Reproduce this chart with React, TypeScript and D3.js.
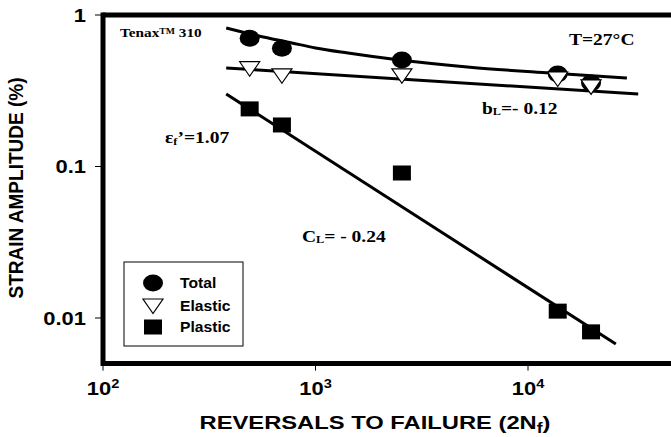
import React from 'react';
import * as d3 from 'd3';

const reversals = [490, 695, 2550, 13800, 19800];
const totalStrain = [0.702, 0.603, 0.505, 0.408, 0.356];
const elasticStrain = [0.442, 0.397, 0.397, 0.378, 0.335];
const plasticStrain = [0.24, 0.188, 0.0906, 0.0111, 0.0081];

const totalFitX = [380, 535, 774, 1000, 1422, 2290, 5330, 12700, 29200];
const totalFitY = [0.821, 0.73, 0.654, 0.606, 0.561, 0.512, 0.452, 0.414, 0.384];
const elasticFitX = [380, 33000];
const elasticFitY = [0.447, 0.301];
const plasticFitX = [380, 25900];
const plasticFitY = [0.301, 0.00673];

const xTicks = [100, 1000, 10000];
const xTickExp = ['2', '3', '4'];
const yTicks = [1, 0.1, 0.01];
const yTickLabels = ['1', '0.1', '0.01'];
const legendItems = ['Total', 'Elastic', 'Plastic'];

const W = 671;
const H = 437;
const SANS = 'Liberation Sans, Arial, sans-serif';
const SERIF = 'Liberation Serif, Times New Roman, serif';
const SX = 1.22;

function T(props: any) {
  const { x, y, anchor = 'start', size, family, sx = SX, children } = props;
  return (
    <text
      transform={`translate(${x},${y}) scale(${sx},1)`}
      textAnchor={anchor}
      fontSize={size}
      fontFamily={family}
      fontWeight="bold"
      fill="#000"
    >
      {children}
    </text>
  );
}

function Circle({ cx, cy }: any) {
  return <ellipse cx={cx} cy={cy} rx={10} ry={8.5} fill="#000" />;
}
function Tri({ cx, cy }: any) {
  return (
    <polygon
      points={`${cx - 10},${cy - 7} ${cx + 10},${cy - 7} ${cx},${cy + 7.5}`}
      fill="#fff"
      stroke="#000"
      strokeWidth={1.2}
    />
  );
}
function Sq({ cx, cy }: any) {
  return <rect x={cx - 9} y={cy - 7.5} width={18} height={15} fill="#000" />;
}

export default function App() {
  const x = d3.scaleLog().domain([100, 10000]).range([103, 528]);
  const y = d3.scaleLog().domain([0.01, 1]).range([318, 15]);
  const x0 = x(100);
  const yTop = y(1);
  const yBot = y(0.005);

  const line = d3
    .line<[number, number]>()
    .x((d) => x(d[0]))
    .y((d) => y(d[1]))
    .curve(d3.curveMonotoneX);
  const straight = d3
    .line<[number, number]>()
    .x((d) => x(d[0]))
    .y((d) => y(d[1]));

  const totalPts = totalFitX.map((v, i) => [v, totalFitY[i]] as [number, number]);
  const elasticPts = elasticFitX.map((v, i) => [v, elasticFitY[i]] as [number, number]);
  const plasticPts = plasticFitX.map((v, i) => [v, plasticFitY[i]] as [number, number]);

  const legX = 124;
  const legY = 262;
  const legRows = [283, 306, 327].map((v) => v - legY);

  return (
    <svg
      width={W}
      height={H}
      style={{ position: 'absolute', left: 0, top: 0, background: '#fff' }}
    >
      <rect x={0} y={0} width={W} height={H} fill="#fff" />
      {/* fit lines */}
      <path d={line(totalPts) || ''} fill="none" stroke="#000" strokeWidth={3} />
      <path d={straight(elasticPts) || ''} fill="none" stroke="#000" strokeWidth={3} />
      <path d={straight(plasticPts) || ''} fill="none" stroke="#000" strokeWidth={3} />

      {/* markers */}
      {reversals.map((r, i) => (
        <Circle key={'c' + i} cx={x(r)} cy={y(totalStrain[i])} />
      ))}
      {reversals.map((r, i) => (
        <Tri key={'t' + i} cx={x(r)} cy={y(elasticStrain[i])} />
      ))}
      {reversals.map((r, i) => (
        <Sq key={'s' + i} cx={x(r)} cy={y(plasticStrain[i])} />
      ))}

      {/* frame */}
      <line x1={x0} x2={W} y1={yTop} y2={yTop} stroke="#000" strokeWidth={5} />
      <line x1={x0} x2={W} y1={yBot} y2={yBot} stroke="#000" strokeWidth={5} />
      <line x1={x0} x2={x0} y1={yTop - 2.5} y2={yBot + 2.5} stroke="#000" strokeWidth={5} />

      {/* ticks */}
      {yTicks.map((t, i) => (
        <g key={'yt' + i}>
          <line x1={x0 - 8} x2={x0} y1={y(t)} y2={y(t)} stroke="#000" strokeWidth={1} />
          <T x={86} y={y(t) + 6.5} anchor="end" size={18} family={SANS}>
            {yTickLabels[i]}
          </T>
        </g>
      ))}
      {xTicks.map((t, i) => (
        <g key={'xt' + i}>
          <line x1={x(t)} x2={x(t)} y1={yBot} y2={yBot + 7} stroke="#000" strokeWidth={1} />
          <T x={x(t)} y={395} anchor="middle" size={18} family={SANS}>
            10<tspan fontSize={12} dy={-7}>{xTickExp[i]}</tspan>
          </T>
        </g>
      ))}

      {/* axis titles */}
      <T x={375} y={429} anchor="middle" size={19} family={SANS} sx={1.25}>
        REVERSALS TO FAILURE (2N<tspan fontSize={14} dy={4}>f</tspan>
        <tspan dy={-4}>)</tspan>
      </T>
      <text
        transform={`translate(23,188) scale(1.1,1) rotate(-90)`}
        textAnchor="middle"
        fontSize={19}
        fontFamily={SANS}
        fontWeight="bold"
      >
        STRAIN AMPLITUDE (%)
      </text>

      {/* annotations */}
      <T x={120} y={37} size={12.5} family={SERIF}>
        Tenax<tspan fontSize={8} dy={-3}>TM</tspan>
        <tspan dy={3}> 310</tspan>
      </T>
      <T x={569} y={45} size={16} family={SERIF}>
        T=27°C
      </T>
      <T x={482} y={114} size={16} family={SERIF}>
        b<tspan fontSize={10} dy={1}>L</tspan>
        <tspan dy={-1}>=- 0.12</tspan>
      </T>
      <T x={165} y={143} size={16} family={SERIF}>
        ε<tspan fontSize={10} dy={2}>f</tspan>
        <tspan dy={-2}>’=1.07</tspan>
      </T>
      <T x={302} y={242} size={16} family={SERIF}>
        C<tspan fontSize={10} dy={1}>L</tspan>
        <tspan dy={-1}>= - 0.24</tspan>
      </T>

      {/* legend */}
      <g transform={`translate(${legX},${legY})`}>
        <rect x={0} y={0} width={119} height={84} fill="#fff" stroke="#000" strokeWidth={1} />
        <Circle cx={29} cy={legRows[0]} />
        <Tri cx={29} cy={legRows[1]} />
        <Sq cx={29} cy={legRows[2]} />
        {legendItems.map((s, i) => (
          <T key={s} x={56} y={legRows[i] + 5} size={14} family={SANS} sx={1.12}>
            {s}
          </T>
        ))}
      </g>
    </svg>
  );
}
